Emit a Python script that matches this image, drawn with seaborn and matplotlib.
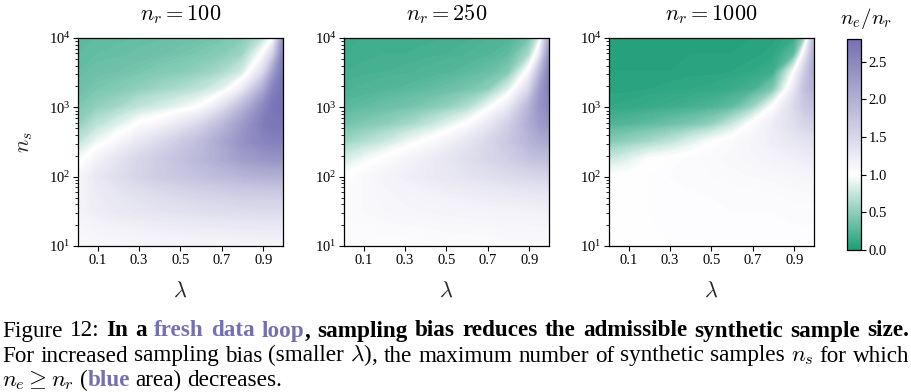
import numpy as np
import pandas as pd
import seaborn as sns
import matplotlib
matplotlib.use("Agg")
import matplotlib.pyplot as plt
from matplotlib.colors import LinearSegmentedColormap, Normalize
from matplotlib.ticker import LogLocator, NullFormatter
import matplotlib.cm as mcm

# ---------------- data ----------------
lam = [0.005, 0.1, 0.2, 0.3, 0.4, 0.5, 0.6, 0.7, 0.8, 0.9, 0.95, 0.995]
log_ns = [1.0, 1.5, 2.0, 2.25, 2.5, 2.75, 3.0, 3.25, 3.5, 3.75, 4.0]
n_r_values = [100, 250, 1000]

# ratio n_e / n_r; one list per lambda column, running over log_ns (bottom -> top)
ratio_nr100 = [
    [1.08, 1.15, 1.10, 0.95, 0.70, 0.52, 0.42, 0.36, 0.32, 0.30, 0.28],
    [1.09, 1.22, 1.28, 1.15, 0.92, 0.70, 0.52, 0.42, 0.36, 0.32, 0.30],
    [1.10, 1.27, 1.42, 1.33, 1.09, 0.85, 0.60, 0.46, 0.38, 0.33, 0.31],
    [1.11, 1.31, 1.53, 1.50, 1.28, 1.02, 0.72, 0.52, 0.41, 0.35, 0.32],
    [1.12, 1.34, 1.63, 1.64, 1.45, 1.12, 0.80, 0.58, 0.45, 0.37, 0.33],
    [1.12, 1.37, 1.71, 1.77, 1.64, 1.28, 0.90, 0.64, 0.48, 0.40, 0.35],
    [1.13, 1.40, 1.78, 1.90, 1.84, 1.50, 1.02, 0.72, 0.53, 0.43, 0.37],
    [1.13, 1.42, 1.85, 2.04, 2.08, 1.85, 1.35, 0.88, 0.62, 0.48, 0.40],
    [1.14, 1.44, 1.92, 2.22, 2.36, 2.25, 1.88, 1.25, 0.80, 0.58, 0.47],
    [1.14, 1.45, 1.97, 2.30, 2.53, 2.63, 2.48, 2.05, 1.45, 1.05, 0.70],
    [1.14, 1.45, 1.98, 2.34, 2.58, 2.72, 2.72, 2.57, 2.20, 1.60, 1.00],
    [1.14, 1.45, 1.98, 2.34, 2.58, 2.72, 2.77, 2.77, 2.72, 2.57, 2.30],
]
ratio_nr250 = [
    [1.04, 1.07, 1.00, 0.80, 0.55, 0.38, 0.27, 0.21, 0.18, 0.16, 0.15],
    [1.04, 1.08, 1.08, 0.93, 0.65, 0.44, 0.30, 0.23, 0.19, 0.17, 0.16],
    [1.05, 1.10, 1.13, 1.03, 0.75, 0.50, 0.34, 0.25, 0.20, 0.18, 0.16],
    [1.05, 1.11, 1.19, 1.12, 0.90, 0.58, 0.38, 0.27, 0.21, 0.18, 0.17],
    [1.05, 1.12, 1.24, 1.21, 1.02, 0.70, 0.44, 0.30, 0.23, 0.19, 0.17],
    [1.06, 1.13, 1.29, 1.31, 1.15, 0.85, 0.52, 0.34, 0.25, 0.20, 0.18],
    [1.06, 1.14, 1.34, 1.40, 1.31, 1.02, 0.64, 0.40, 0.28, 0.22, 0.19],
    [1.06, 1.15, 1.39, 1.50, 1.49, 1.27, 0.92, 0.50, 0.33, 0.25, 0.21],
    [1.07, 1.16, 1.44, 1.60, 1.69, 1.58, 1.26, 0.85, 0.45, 0.30, 0.24],
    [1.07, 1.17, 1.49, 1.74, 1.93, 2.03, 1.92, 1.50, 1.08, 0.62, 0.38],
    [1.07, 1.18, 1.51, 1.79, 2.03, 2.23, 2.32, 2.22, 1.85, 1.25, 0.80],
    [1.07, 1.18, 1.52, 1.81, 2.08, 2.32, 2.47, 2.57, 2.52, 2.32, 2.02],
]
ratio_nr1000 = [
    [1.01, 1.02, 1.00, 0.75, 0.45, 0.22, 0.10, 0.07, 0.06, 0.05, 0.05],
    [1.01, 1.02, 1.01, 0.85, 0.52, 0.25, 0.11, 0.07, 0.06, 0.05, 0.05],
    [1.02, 1.02, 1.02, 0.99, 0.60, 0.30, 0.13, 0.08, 0.06, 0.05, 0.05],
    [1.02, 1.03, 1.04, 1.02, 0.70, 0.35, 0.15, 0.09, 0.06, 0.05, 0.05],
    [1.02, 1.03, 1.05, 1.05, 0.85, 0.42, 0.18, 0.10, 0.07, 0.06, 0.05],
    [1.02, 1.03, 1.06, 1.07, 0.98, 0.52, 0.22, 0.11, 0.07, 0.06, 0.05],
    [1.02, 1.04, 1.07, 1.09, 1.07, 0.75, 0.30, 0.14, 0.08, 0.06, 0.05],
    [1.02, 1.04, 1.08, 1.11, 1.13, 1.04, 0.55, 0.20, 0.10, 0.07, 0.06],
    [1.02, 1.04, 1.09, 1.14, 1.21, 1.23, 1.03, 0.45, 0.16, 0.09, 0.07],
    [1.03, 1.05, 1.11, 1.18, 1.29, 1.41, 1.46, 1.30, 1.00, 0.30, 0.12],
    [1.03, 1.05, 1.12, 1.21, 1.33, 1.51, 1.66, 1.76, 1.60, 1.20, 0.50],
    [1.03, 1.05, 1.13, 1.23, 1.36, 1.56, 1.76, 1.96, 2.06, 2.00, 1.80],
]
ratios = [ratio_nr100, ratio_nr250, ratio_nr1000]

x_ticks = [0.1, 0.3, 0.5, 0.7, 0.9]
cbar_ticks = [0.0, 0.5, 1.0, 1.5, 2.0, 2.5]
v_min, v_center, v_max = 0.0, 1.0, 2.8

# ---------------- style ----------------
sns.set_theme(style="ticks")
plt.rcParams["font.family"] = ["Liberation Serif", "DejaVu Serif"]
plt.rcParams["mathtext.fontset"] = "stix"
plt.rcParams["axes.edgecolor"] = "black"
plt.rcParams["axes.linewidth"] = 0.9
plt.rcParams["xtick.color"] = "black"
plt.rcParams["ytick.color"] = "black"
plt.rcParams["text.color"] = "black"

dark2 = sns.color_palette("Dark2")
green, purple = dark2[0], dark2[2]
cmap = LinearSegmentedColormap.from_list(
    "gwp", [(0.0, green), ((v_center - v_min) / (v_max - v_min), (1, 1, 1)), (1.0, purple)])
norm = Normalize(v_min, v_max)
levels = np.linspace(v_min, v_max, 141)

W, H = 912, 392
fig = plt.figure(figsize=(W / 100, H / 100), dpi=100)

def fx(px):
    return px / W

def fy(py):
    return 1 - py / H

ax_lefts = [78, 344, 609]
ax_w, ax_top, ax_bot = 205, 38, 246
ns = 10 ** np.array(log_ns)

for i, (left, nr, rt) in enumerate(zip(ax_lefts, n_r_values, ratios)):
    ax = fig.add_axes([fx(left), fy(ax_bot), ax_w / W, (ax_bot - ax_top) / H])
    Z = np.array(rt).T
    cs = ax.contourf(lam, ns, Z, levels=levels, cmap=cmap, norm=norm, extend="both")
    cs.set_edgecolor("face")
    ax.set_yscale("log")
    ax.set_xlim(lam[0], lam[-1])
    ax.set_ylim(10, 1e4)
    ax.set_xticks(x_ticks)
    ax.set_xticklabels([f"{t:.1f}" for t in x_ticks])
    ax.yaxis.set_major_locator(LogLocator(base=10))
    ax.yaxis.set_minor_locator(LogLocator(base=10, subs=np.arange(2, 10)))
    ax.yaxis.set_minor_formatter(NullFormatter())
    ax.tick_params(axis="both", which="major", direction="out", length=3.5,
                   width=0.8, labelsize=10.5, pad=2)
    ax.tick_params(axis="y", which="minor", direction="out", length=2, width=0.6)
    for s in ax.spines.values():
        s.set_visible(True)
        s.set_color("black")
    ax.set_title(f"$n_r = {nr}$", fontsize=16, pad=13, math_fontfamily="cm")
    ax.set_xlabel(r"$\lambda$", fontsize=16, labelpad=11, math_fontfamily="cm")
    if i == 0:
        ax.set_ylabel(r"$n_s$", fontsize=16, labelpad=10, math_fontfamily="cm")

cax = fig.add_axes([fx(847), fy(250), 14 / W, 211 / H])
sm = mcm.ScalarMappable(norm=norm, cmap=cmap)
cb = fig.colorbar(sm, cax=cax)
cb.set_ticks(cbar_ticks)
cb.set_ticklabels([f"{t:.1f}" for t in cbar_ticks])
cb.outline.set_edgecolor("black")
cb.outline.set_linewidth(0.9)
cax.tick_params(direction="out", length=3.5, width=0.8, labelsize=10.5, pad=2)
cax.text(1.36, 1 + 15 / 211, r"$n_e/n_r$", transform=cax.transAxes, ha="center",
         va="baseline", fontsize=15, math_fontfamily="cm")

# ---------------- caption ----------------
reg = dict(color="black")
bld = dict(color="black", weight="bold")
pbl = dict(color=purple, weight="bold")

line1 = [[("Figure", reg)], [("12:", reg)], [("In", bld)], [("a", bld)],
         [("fresh", pbl)], [("data", pbl)], [("loop", pbl), (",", bld)]] + \
        [[(w, bld)] for w in "sampling bias reduces the admissible synthetic sample size.".split()]
line2 = [[(w, reg)] for w in
         r"For increased sampling bias (smaller $\lambda$), the maximum number of synthetic samples $n_s$ for which".split(" ")]
line3 = [[(r"$n_e \geq n_r$", reg)], [("(", reg), ("blue", pbl)], [("area)", reg)], [("decreases.", reg)]]

renderer = fig.canvas.get_renderer()

def seg_width(txt, props, fs):
    t = fig.text(0, 0, txt, fontsize=fs, math_fontfamily="cm", **props)
    w = t.get_window_extent(renderer).width
    t.remove()
    return w

def word_widths(line, fs):
    return [[seg_width(s, p, fs) for s, p in word] for word in line]

def natural(line, fs, gap_em):
    ww = word_widths(line, fs)
    return sum(sum(w) for w in ww) + gap_em * fs * 100 / 72 * (len(line) - 1)

x0, x1 = 2, 909
fs0 = 15
fs = fs0 * min((x1 - x0) / natural(line1, fs0, 0.17), (x1 - x0) / natural(line2, fs0, 0.25))

def place(line, baseline_px, justify):
    ww = word_widths(line, fs)
    total = sum(sum(w) for w in ww)
    space = 0.25 * fs * 100 / 72
    gap = (x1 - x0 - total) / (len(line) - 1) if justify else space
    x = x0
    for word, widths in zip(line, ww):
        for (s, p), w in zip(word, widths):
            fig.text(fx(x), fy(baseline_px), s, fontsize=fs, va="baseline", ha="left",
                     math_fontfamily="cm", **p)
            x += w
        x += gap

place(line1, 336.5, True)
place(line2, 361.5, True)
place(line3, 386.5, False)

fig.savefig("out.png", dpi=100)
